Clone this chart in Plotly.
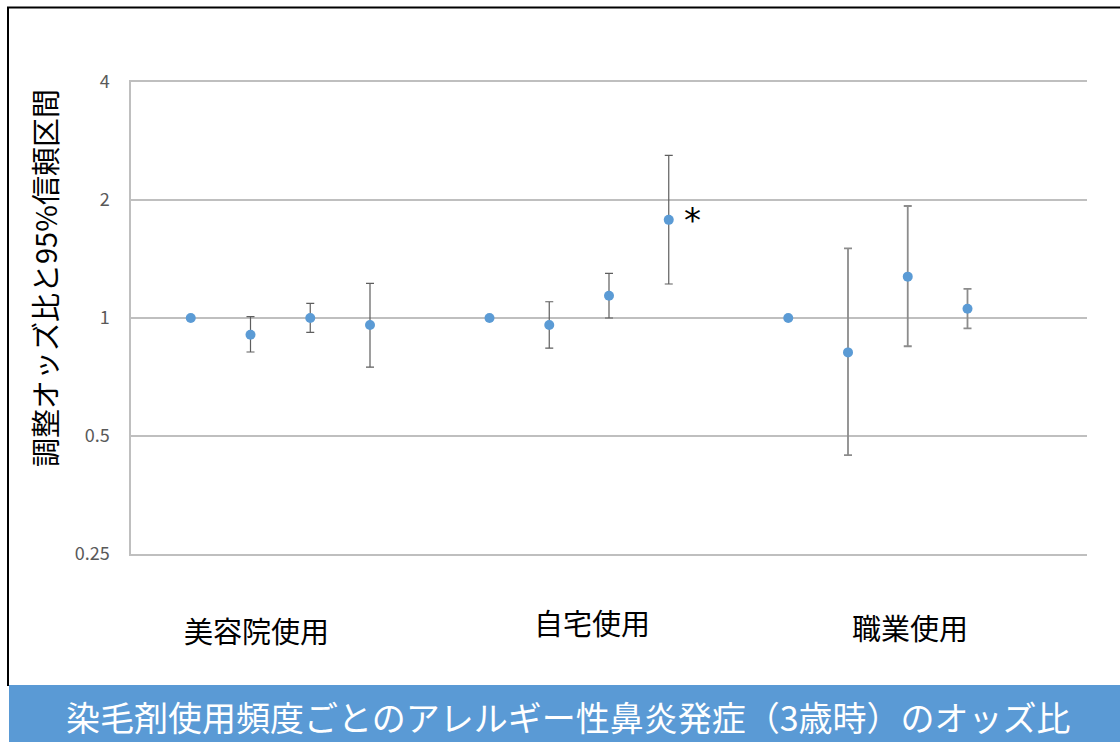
import math
import plotly.graph_objects as go

# ---------------- data ----------------
groups = ["美容院使用", "自宅使用", "職業使用"]
or_beauty = [1.00, 0.906, 1.00, 0.96]
lo_beauty = [None, 0.819, 0.919, 0.749]
hi_beauty = [None, 1.008, 1.09, 1.226]

or_home = [1.00, 0.96, 1.14, 1.78]
lo_home = [None, 0.838, 1.00, 1.221]
hi_home = [None, 1.10, 1.30, 2.60]

or_work = [1.00, 0.817, 1.275, 1.056]
lo_work = [None, 0.447, 0.847, 0.941]
hi_work = [None, 1.506, 1.931, 1.186]

tick_vals = [0.25, 0.5, 1, 2, 4]
tick_text = ["0.25", "0.5", "1", "2", "4"]
y_title = "調整オッズ比と95%信頼区間"
banner_title = "染毛剤使用頻度ごとのアレルギー性鼻炎発症（3歳時）のオッズ比"
significant = [(1, 3)]  # (group index, item index) marked with *

# ---------------- layout geometry ----------------
W, H = 1120, 742
L, R, T, B = 131, 1087, 82, 554
FONT = "Noto Sans CJK JP"
BLUE = "#5B9BD5"


def px2x(px):
    return (px - L) / (R - L)


def py2y(py):
    return (B - py) / (B - T)


series = [(or_beauty, lo_beauty, hi_beauty, "#5e5e5e", 1.2),
          (or_home, lo_home, hi_home, "#5e5e5e", 1.2),
          (or_work, lo_work, hi_work, "#8c8c8c", 1.8)]

fig = go.Figure()
for gi, (vals, lo, hi, ecol, ew) in enumerate(series):
    xs = [gi * 5 + i for i in range(len(vals))]
    plus = [None if h is None else h - v for v, h in zip(vals, hi)]
    minus = [None if l is None else v - l for v, l in zip(vals, lo)]
    fig.add_trace(go.Scatter(
        x=xs, y=vals, mode="markers",
        marker=dict(color=BLUE, size=10),
        error_y=dict(type="data", symmetric=False, array=plus, arrayminus=minus,
                     color=ecol, thickness=ew, width=4),
        showlegend=False, hoverinfo="skip"))

annotations = []
# group labels
label_shift = [(-24, -2), (13, 6), (32, 1)]
for gi, name in enumerate(groups):
    annotations.append(dict(
        x=gi * 5 + 1.5, y=py2y(628), xref="x", yref="paper",
        text=name, showarrow=False, xanchor="center", yanchor="middle",
        xshift=label_shift[gi][0], yshift=label_shift[gi][1],
        font=dict(family=FONT, size=29, color="#000000")))

# significance markers
all_vals = [or_beauty, or_home, or_work]
for gi, ii in significant:
    annotations.append(dict(
        x=gi * 5 + ii, y=math.log10(all_vals[gi][ii]), xref="x", yref="y",
        text="*", showarrow=False, xanchor="center", yanchor="middle",
        xshift=24, yshift=0,
        font=dict(family="DejaVu Sans", size=34, color="#000000")))

# y title
annotations.append(dict(
    x=px2x(44), y=py2y(278), xref="paper", yref="paper",
    text=y_title, textangle=-90, showarrow=False,
    xanchor="center", yanchor="middle",
    font=dict(family=FONT, size=29, color="#000000")))

# banner title
annotations.append(dict(
    x=px2x(568), y=py2y(716), xref="paper", yref="paper",
    text=banner_title, showarrow=False, xanchor="center", yanchor="middle",
    font=dict(family=FONT, size=34, color="#ffffff")))

shapes = [
    # banner
    dict(type="rect", xref="paper", yref="paper",
         x0=px2x(9), x1=px2x(1122), y0=py2y(685), y1=py2y(744),
         fillcolor="#5A9AD5", line=dict(width=0), layer="below"),
    # frame: top and left
    dict(type="line", xref="paper", yref="paper",
         x0=px2x(7), x1=px2x(1122), y0=py2y(7.5), y1=py2y(7.5),
         line=dict(color="#000000", width=2)),
    dict(type="line", xref="paper", yref="paper",
         x0=px2x(8), x1=px2x(8), y0=py2y(7), y1=py2y(686),
         line=dict(color="#000000", width=2)),
]

fig.update_layout(
    width=W, height=H,
    margin=dict(l=L, r=W - R, t=T, b=H - B),
    paper_bgcolor="#ffffff", plot_bgcolor="#ffffff",
    font=dict(family=FONT),
    xaxis=dict(range=[-1, 15], showgrid=False, zeroline=False,
               showticklabels=False, showline=True, mirror=True,
               linecolor="#bfbfbf", linewidth=1.5, fixedrange=True),
    yaxis=dict(type="log",
               range=[math.log10(0.25), math.log10(4)],
               tickvals=tick_vals, ticktext=tick_text,
               tickfont=dict(family=FONT, size=18, color="#595959"),
               showgrid=True, gridcolor="#bfbfbf", gridwidth=1.5,
               showline=True, linecolor="#bfbfbf", linewidth=1.5,
               ticks="", ticklabelstandoff=16, zeroline=False),
    annotations=annotations,
    shapes=shapes,
    showlegend=False,
)

fig.write_html("out.html")
